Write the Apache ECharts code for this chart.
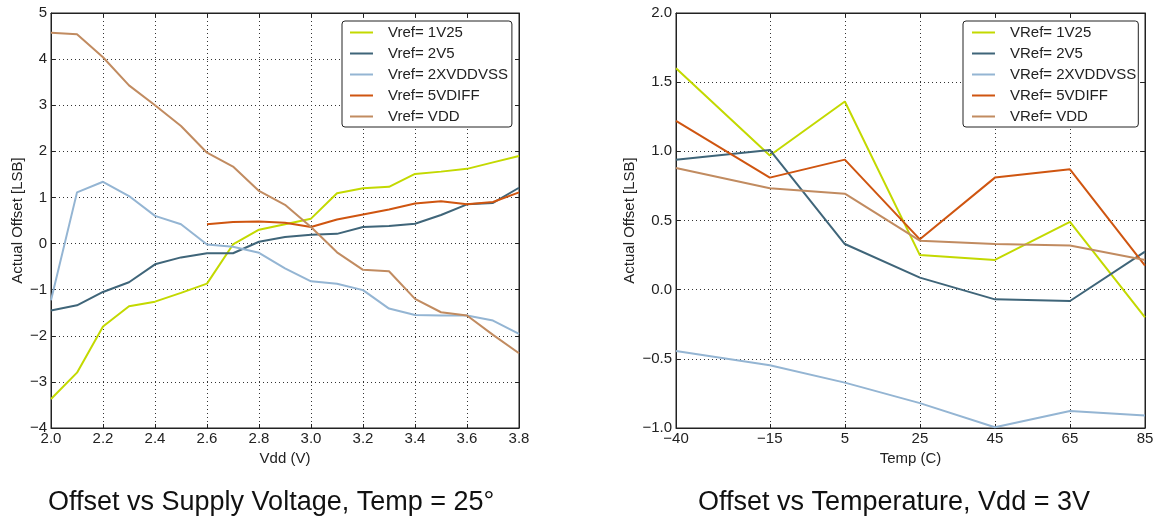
<!DOCTYPE html>
<html>
<head>
<meta charset="utf-8">
<script src="https://cdn.jsdelivr.net/npm/echarts@6/dist/echarts.min.js"></script>
<style>
  html, body { margin: 0; padding: 0; background: #fff; }
  #chart { width: 1157px; height: 522px; }
</style>
</head>
<body>
<div id="chart"></div>
<script>
// offset vs supply voltage (Temp = 25)
const vddValues = [2.0, 2.1, 2.2, 2.3, 2.4, 2.5, 2.6, 2.7, 2.8, 2.9, 3.0, 3.1, 3.2, 3.3, 3.4, 3.5, 3.6, 3.7, 3.8];
const vdd1V25 = [-3.37, -2.8, -1.8, -1.36, -1.26, -1.07, -0.87, -0.02, 0.3, 0.42, 0.54, 1.09, 1.2, 1.23, 1.51, 1.56, 1.62, 1.76, 1.9];
const vdd2V5 = [-1.45, -1.34, -1.05, -0.84, -0.45, -0.3, -0.21, -0.21, 0.04, 0.14, 0.19, 0.21, 0.36, 0.38, 0.43, 0.62, 0.85, 0.88, 1.21];
const vdd2XVDDVSS = [-1.23, 1.11, 1.34, 1.03, 0.6, 0.42, -0.02, -0.07, -0.2, -0.54, -0.82, -0.87, -1.01, -1.41, -1.55, -1.56, -1.56, -1.67, -1.96];
const vdd5VDIFF = [null, null, null, null, null, null, 0.42, 0.47, 0.48, 0.45, 0.36, 0.52, 0.63, 0.74, 0.87, 0.92, 0.85, 0.9, 1.11];
const vddVDD = [4.57, 4.54, 4.04, 3.43, 3.0, 2.55, 1.97, 1.67, 1.14, 0.84, 0.36, -0.19, -0.57, -0.6, -1.2, -1.49, -1.56, -1.98, -2.38];

// offset vs temperature (Vdd = 3V)
const tempValues = [-40, -15, 5, 25, 45, 65, 85];
const tempTicks = [-40, -15, 5, 25, 45, 65, 85];
const temp1V25 = [1.6, 0.97, 1.36, 0.25, 0.215, 0.49, -0.2];
const temp2V5 = [0.94, 1.01, 0.33, 0.087, -0.07, -0.082, 0.275];
const temp2XVDDVSS = [-0.443, -0.547, -0.672, -0.82, -0.995, -0.877, -0.91];
const temp5VDIFF = [1.22, 0.81, 0.94, 0.364, 0.81, 0.87, 0.174];
const tempVDD = [0.88, 0.733, 0.694, 0.354, 0.33, 0.32, 0.215];

const refNames = ['1V25', '2V5', '2XVDDVSS', '5VDIFF', 'VDD'];
const colors = ['#c3d900', '#3f6579', '#94b5d3', '#cf5510', '#c18b60'];

const FONT = '"Liberation Sans", Arial, Helvetica, sans-serif';
const textColor = '#222';
const minus = s => String(s).replace('-', '\u2212');

const pairs = (xs, ys) => xs.map((x, i) => [x, ys[i]]);

const gridLine = { show: true, lineStyle: { color: '#333', type: [1, 3], width: 1 } };
const labelBase = { color: textColor, fontSize: 15, fontFamily: FONT };

function mainX(grid, opts) {
  return Object.assign({
    type: 'value', gridIndex: grid, position: 'bottom',
    axisLine: { show: true, onZero: false, lineStyle: { color: textColor } },
    axisTick: { inside: true, length: 4, lineStyle: { color: textColor } },
    splitLine: gridLine,
    nameLocation: 'middle', nameGap: 20,
    nameTextStyle: { color: textColor, fontSize: 15, fontFamily: FONT }
  }, opts);
}

function mainY(grid, opts) {
  return Object.assign({
    type: 'value', gridIndex: grid, position: 'left',
    axisLine: { show: true, onZero: false, lineStyle: { color: textColor } },
    axisTick: { inside: true, length: 4, lineStyle: { color: textColor } },
    splitLine: gridLine,
    nameLocation: 'middle',
    nameTextStyle: { color: textColor, fontSize: 15, fontFamily: FONT }
  }, opts);
}

// mirror axes, only ticks on top / right edges
function mirror(base, position) {
  return Object.assign({}, base, {
    position: position,
    name: '',
    axisLabel: { show: false },
    splitLine: { show: false },
    axisLine: { show: true, onZero: false, lineStyle: { color: textColor } }
  });
}

const xVdd = mainX(0, {
  min: 2.0, max: 3.8, interval: 0.2,
  name: 'Vdd (V)',
  axisLabel: Object.assign({ margin: 3, formatter: v => v.toFixed(1) }, labelBase)
});
const yVdd = mainY(0, {
  min: -4, max: 5, interval: 1,
  name: 'Actual Offset [LSB]', nameGap: 26,
  axisLabel: Object.assign({ margin: 4, formatter: v => minus(v) }, labelBase)
});
const xTemp = mainX(1, {
  min: -40, max: 85,
  name: 'Temp (C)',
  axisTick: { inside: true, length: 4, customValues: tempTicks, lineStyle: { color: textColor } },
  axisLabel: Object.assign({ margin: 3, customValues: tempTicks, formatter: v => minus(v) }, labelBase)
});
const yTemp = mainY(1, {
  min: -1, max: 2, interval: 0.5,
  name: 'Actual Offset [LSB]', nameGap: 39,
  axisLabel: Object.assign({ margin: 4, formatter: v => minus(v.toFixed(1)) }, labelBase)
});

// plain line icon (degenerate corners keep the 23x14 box)
const lineIcon = 'path://M0,0L0.01,0L0,0.01Z M0,6L23,6L23,8L0,8Z M0,14L0.01,14L0,14.01Z';

function legendFor(prefix, left, padding) {
  return {
    left: left, top: 21,
    orient: 'vertical',
    data: refNames.map(n => prefix + n),
    icon: lineIcon,
    itemWidth: 23, itemHeight: 14, itemGap: 6,
    padding: padding,
    borderColor: '#222', borderWidth: 1, borderRadius: 3,
    backgroundColor: '#fff',
    textStyle: { color: textColor, fontSize: 15, lineHeight: 15, fontFamily: FONT, padding: [0, 0, 0, 10] }
  };
}

const vddSeries = [vdd1V25, vdd2V5, vdd2XVDDVSS, vdd5VDIFF, vddVDD];
const tempSeries = [temp1V25, temp2V5, temp2XVDDVSS, temp5VDIFF, tempVDD];

const series = [];
vddSeries.forEach((ys, i) => {
  series.push({
    name: 'Vref= ' + refNames[i], type: 'line', xAxisIndex: 0, yAxisIndex: 0,
    data: pairs(vddValues, ys), symbol: 'none', color: colors[i],
    lineStyle: { width: 2 }
  });
});
tempSeries.forEach((ys, i) => {
  series.push({
    name: 'VRef= ' + refNames[i], type: 'line', xAxisIndex: 2, yAxisIndex: 2,
    data: pairs(tempValues, ys), symbol: 'none', color: colors[i],
    lineStyle: { width: 2 }
  });
});

const titleStyle = { fontSize: 27, fontWeight: 'normal', color: '#111', fontFamily: FONT };

const chart = echarts.init(document.getElementById('chart'));
chart.setOption({
  backgroundColor: '#fff',
  animation: false,
  title: [
    { text: 'Offset vs Supply Voltage, Temp = 25\u00b0', left: 48, top: 489, padding: 0, textStyle: titleStyle },
    { text: 'Offset vs Temperature, Vdd = 3V', left: 698, top: 489, padding: 0, textStyle: titleStyle }
  ],
  legend: [legendFor('Vref= ', 342, [4, 4, 3, 8]), legendFor('VRef= ', 963, [4, 2, 3, 9])],
  grid: [
    { left: 51, top: 13, width: 468, height: 415, show: true, borderColor: textColor, borderWidth: 1 },
    { left: 676, top: 13, width: 469, height: 415, show: true, borderColor: textColor, borderWidth: 1 }
  ],
  xAxis: [xVdd, mirror(xVdd, 'top'), xTemp, mirror(xTemp, 'top')],
  yAxis: [yVdd, mirror(yVdd, 'right'), yTemp, mirror(yTemp, 'right')],
  series: series
});
</script>
</body>
</html>
